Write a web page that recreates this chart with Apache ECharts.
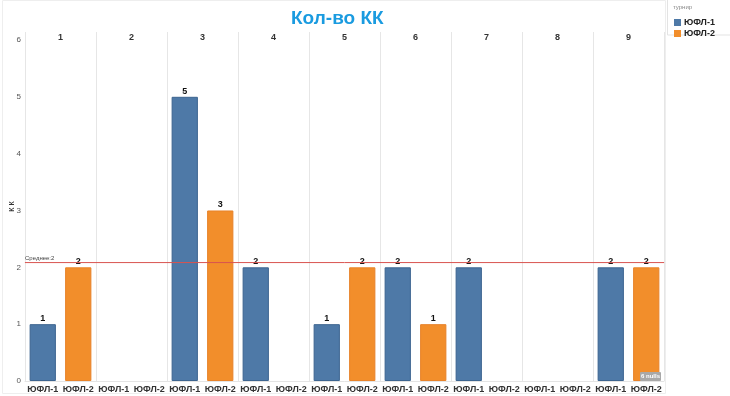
<!DOCTYPE html>
<html><head><meta charset="utf-8">
<script src="https://cdn.jsdelivr.net/npm/echarts@6/dist/echarts.min.js"></script>
<style>html,body{margin:0;padding:0;background:#fff}#c{width:730px;height:396px}</style>
</head><body><div id="c"></div>
<script>
const groups = ['1','2','3','4','5','6','7','8','9'];
const seriesNames = ['ЮФЛ-1','ЮФЛ-2'];
const kk1 = [1, null, 5, 2, 1, 2, 2, null, 2];
const kk2 = [2, null, 3, null, 2, 1, null, null, 2];
const yTicks = [0,1,2,3,4,5,6];

const colors = ['#4e79a7', '#f28e2b'];
const borders = ['#3d6590', '#e8832a'];

const cats = [];
const d1 = [], d2 = [];
groups.forEach((g, i) => {
  cats.push(seriesNames[0]); cats.push(seriesNames[1]);
  d1.push(kk1[i]); d1.push(null);
  d2.push(null); d2.push(kk2[i]);
});
const all = kk1.concat(kk2).filter(v => v !== null);
const avg = all.reduce((a,b)=>a+b,0)/all.length;
const nulls = kk1.concat(kk2).length - all.length;

const chart = echarts.init(document.getElementById('c'), null, {renderer:'canvas'});
const labelStyle = {show:true, position:'top', distance:1, fontSize:9, fontWeight:'bold', color:'#111', fontFamily:'Arial, Liberation Sans'};
chart.setOption({
  animation:false,
  textStyle:{fontFamily:'Arial, Liberation Sans'},
  title:{text:'Кол-во КК', left:286, top:4, textStyle:{color:'#1a9be0', fontSize:19, fontWeight:'bold', fontFamily:'Arial, Liberation Sans'}},
  grid:{left:25, right:66, top:32, bottom:15, containLabel:false, outerBoundsMode:'none'},
  legend:{
    left:669, top:13, orient:'vertical', itemWidth:7, itemHeight:7, itemGap:2, icon:'rect',
    data:seriesNames,
    itemStyle:{borderWidth:0},
    textStyle:{fontSize:9, fontWeight:'bold', color:'#222', padding:[0,0,0,-2]}
  },
  graphic:[
    {type:'rect', shape:{x:2.5, y:0.5, width:663, height:393}, style:{fill:'none', stroke:'#eeeeee', lineWidth:1}, silent:true, z:-10},
    {type:'rect', shape:{x:667.5, y:-1, width:70, height:36}, style:{fill:'#fff', stroke:'#e3e3e3', lineWidth:1}, silent:true, z:-1},
    {type:'text', x:673, y:4, style:{text:'турнир', fontSize:6, fill:'#888'}},
    {type:'rect', shape:{x:640, y:372, width:21, height:9, r:1}, style:{fill:'#a8a8a8'}, z:100},
    {type:'text', x:650.5, y:376.5, style:{text:nulls + ' nulls', fontSize:6, fontWeight:'bold', fill:'#fff', align:'center', verticalAlign:'middle'}, z:101}
  ],
  xAxis:[
    {type:'category', position:'bottom', data:cats,
     axisTick:{show:false}, axisLine:{show:true, lineStyle:{color:'#e4e4e4'}},
     axisLabel:{interval:0, fontSize:9, fontWeight:'bold', color:'#333', margin:4}},
    {type:'category', position:'top', data:groups,
     axisTick:{show:false}, axisLine:{show:false},
     axisLabel:{inside:true, interval:0, fontSize:9, fontWeight:'bold', color:'#333', margin:1},
     splitLine:{show:true, interval:0, lineStyle:{color:'#e6e6e6', width:1}}},
    {type:'value', min:0, max:1, show:false}
  ],
  yAxis:{type:'value', min:0, max:6.14, interval:1,
    name:'К К', nameLocation:'middle', nameGap:9, nameRotate:90, nameMoveOverlap:false,
    nameTextStyle:{fontSize:7, fontWeight:'bold', color:'#333'},
    axisLine:{show:false}, axisTick:{show:false}, splitLine:{show:false},
    axisLabel:{fontSize:8, color:'#555', margin:4, showMaxLabel:true,
      formatter:(v)=> yTicks.indexOf(v) >= 0 ? String(v) : ''}},
  series:[
    {name:seriesNames[0], type:'bar', data:d1, barWidth:'74%', barGap:'-100%',
     itemStyle:{color:colors[0], borderColor:borders[0], borderWidth:1}, label:labelStyle},
    {name:seriesNames[1], type:'bar', data:d2, barWidth:'74%', barGap:'-100%',
     itemStyle:{color:colors[1], borderColor:borders[1], borderWidth:1}, label:labelStyle},
    {name:'Среднее', type:'line', xAxisIndex:2, yAxisIndex:0, z:10, silent:true,
     symbol:'circle', symbolSize:0.5, showSymbol:true,
     lineStyle:{color:'#d9534f', width:1}, itemStyle:{color:'#d9534f'},
     labelLayout:{hideOverlap:false},
     data:[
       {value:[0, avg], label:{show:true, position:'top', align:'left', distance:1, offset:[1,0],
         formatter:'Среднее:' + Math.round(avg), fontSize:6, color:'#444'}},
       [1, avg]
     ]}
  ]
});
</script></body></html>
